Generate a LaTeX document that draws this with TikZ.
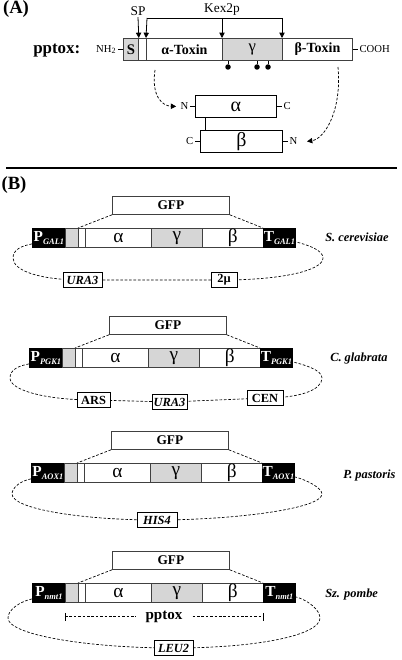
\documentclass[tikz,border=0pt]{standalone}
\usepackage{fontspec}
\setmainfont{Liberation Serif}
\usetikzlibrary{calc,arrows.meta,backgrounds}
\definecolor{cellgray}{gray}{0.84}
\tikzset{
  cell/.style={draw=black!75, line width=0.6pt, inner sep=0pt, fill=white},
  graycell/.style={cell, fill=cellgray},
  blackcell/.style={cell, draw=black, fill=black, text=white},
  greek/.style={font=\fontsize{14.5}{14}\selectfont},
  gfpfont/.style={font=\fontsize{10}{12}\selectfont\bfseries},
  smallbox/.style={draw, line width=0.6pt, fill=white, inner sep=0pt, minimum height={15*0.75pt}},
  bi/.style={font=\fontsize{9.3}{10}\selectfont\bfseries\itshape},
  bn/.style={font=\fontsize{9.3}{10}\selectfont\bfseries},
  dsh/.style={dash pattern=on 2pt off 1.3pt, line width=0.5pt},
  arr/.style={-{Triangle[length=4pt,width=4pt]}},
  species/.style={font=\fontsize{9.3}{11}\selectfont\bfseries\itshape, anchor=base west, inner sep=0pt},
  small/.style={font=\fontsize{8}{9}\selectfont, inner sep=1pt},
  blob/.style={circle, fill, inner sep=0pt, minimum size={5.5*0.75pt}},
}
\newcommand\mycell[7]{\node[#1, minimum width={#5*0.75pt}, minimum height={#6*0.75pt}, anchor=north west] (#2) at (#3,#4) {#7};}
\newcommand\promlabel[2]{\fontsize{11.5}{12}\selectfont\bfseries #1\raisebox{-1.8pt}{\fontsize{6.3}{7}\selectfont\itshape #2}}
\newcommand\cassette[5]{%
\begin{scope}[shift={(#2,#3)}]
\mycell{blackcell}{#1P}{0}{0}{33}{19}{\promlabel{P}{#4}}
\mycell{graycell}{#1g}{33}{0}{13}{19}{}
\mycell{cell}{#1w}{46}{0}{7}{19}{}
\mycell{cell,greek}{#1a}{53}{0}{66}{19}{α}
\mycell{graycell,greek}{#1y}{119}{0}{51}{19}{γ}
\mycell{cell,greek}{#1b}{170}{0}{61}{19}{β}
\mycell{blackcell}{#1T}{231}{0}{32}{19}{\promlabel{T}{#5}}
\mycell{cell,gfpfont}{#1gfp}{80}{-32}{117}{18}{GFP}
\draw[dsh] (#1gfp.south west) -- (#1w.north west);
\draw[dsh] (#1gfp.south east) -- (#1T.north west);
\end{scope}}
\begin{document}
\begin{tikzpicture}[x=0.75pt,y=-0.75pt]
\useasboundingbox (0,0) rectangle (401,660);
% ---------------- Panel A
\node[font=\fontsize{14}{14}\selectfont\bfseries, inner sep=0pt] (labA) at (16,9.5) {(A)};
\node[font=\fontsize{12.7}{14}\selectfont\bfseries, anchor=base west, inner sep=0pt] (pptoxA) at (33,54) {pptox:};
\mycell{graycell,font=\fontsize{11}{12}\selectfont\bfseries}{aS}{123}{38}{15}{22}{S}
\mycell{cell}{aw}{138}{38}{8}{22}{}
\mycell{cell,font=\fontsize{10.5}{12}\selectfont\bfseries}{aA}{146}{38}{76}{22}{α-Toxin}
\mycell{graycell,font=\fontsize{12.5}{12}\selectfont}{aY}{222}{38}{60}{22}{γ}
\mycell{cell,font=\fontsize{10.5}{12}\selectfont\bfseries}{aB}{282}{38}{70}{22}{β-Toxin}
\draw[line width=0.6pt] (aS.west) -- ++(-5,0) node[left, small] (nh2) {NH\textsubscript{2}};
\draw[line width=0.6pt] (aB.east) -- ++(5,0) node[right, small] (cooh) {COOH};
\node[font=\fontsize{10}{12}\selectfont, inner sep=1pt] (sp) at (138,11) {SP};
\draw[arr, line width=0.6pt] (sp.south) -- (aS.north east);
\coordinate (k1) at (147,18);
\coordinate (k2) at (282,18);
\coordinate (k3) at (222,18);
\draw[line width=0.6pt] (k1) -- (k2);
\draw[arr, line width=0.6pt] (k1) -- (aA.north west);
\draw[arr, line width=0.6pt] (k3) -- (aY.north west);
\draw[arr, line width=0.6pt] (k2) -- (aB.north west);
\node[font=\fontsize{10}{12}\selectfont, inner sep=1pt] (kex) at (222,10) {Kex2p};
\node[blob] (d1) at (228,67) {};
\node[blob] (d2) at (257,67) {};
\node[blob] (d3) at (268,67) {};
\foreach \d in {d1,d2,d3} \draw[line width=0.6pt] (\d) -- (\d |- aY.south);
% alpha / beta chains
\mycell{cell,draw=black,font=\fontsize{15}{15}\selectfont}{alpha}{195}{95}{81}{22}{α}
\mycell{cell,draw=black,font=\fontsize{15}{15}\selectfont}{beta}{200}{130}{82}{22}{β}
\draw[line width=0.6pt] (alpha.west) -- ++(-5,0) node[left, small] (aN) {N};
\draw[line width=0.6pt] (alpha.east) -- ++(5,0) node[right, small] (aC) {C};
\draw[line width=0.6pt] (beta.west) -- ++(-5,0) node[left, small] (bC) {C};
\draw[line width=0.6pt] (beta.east) -- ++(5,0) node[right, small] (bN) {N};
\draw[line width=0.6pt] ([xshift=7.5pt]alpha.south west) -- ([xshift=3.75pt]beta.north west);
\coordinate (sA) at (155,70);
\coordinate (sB) at (338,67);
\draw[dsh, line width=0.55pt, arr] (sA) .. controls (151,97) and (163,106) .. ([xshift=-2pt]aN.west);
\draw[dsh, line width=0.55pt, arr] (sB) .. controls (342,112) and (324,139) .. ([xshift=6pt]bN.east);
% separator
\coordinate (r1) at (6,168);
\coordinate (r2) at (397,168);
\draw[line width=0.8pt] (r1) -- (r2);
% ---------------- Panel B
\node[font=\fontsize{14}{14}\selectfont\bfseries, inner sep=0pt] (labB) at (14,185) {(B)};
% construct 1
\node[smallbox, bi, minimum width={39*0.75pt}] (c1ura) at (82.5,280) {URA3};
\node[smallbox, bn, minimum width={26*0.75pt}] (c1mu) at (224,280) {2µ};
\coordinate (c1l) at (13,258);
\coordinate (c1r) at (323,258);
\cassette{c1}{32}{228}{GAL1}{GAL1}
\node[species] (sp1) at (325,241) {S. cerevisiae};
% construct 2
\node[smallbox, bn, minimum width={33*0.75pt}] (c2ars) at (93.5,400) {ARS};
\node[smallbox, bi, minimum width={35*0.75pt}] (c2ura) at (169.5,402) {URA3};
\node[smallbox, bn, minimum width={36*0.75pt}] (c2cen) at (265,398) {CEN};
\coordinate (c2l) at (10,378);
\coordinate (c2r) at (322,378);
\cassette{c2}{29}{348}{PGK1}{PGK1}
\node[species] (sp2) at (330,361) {C. glabrata};
% construct 3
\node[smallbox, bi, minimum width={40*0.75pt}] (c3his) at (157,520) {HIS4};
\coordinate (c3l) at (12,494);
\coordinate (c3r) at (322,494);
\cassette{c3}{31}{463}{AOX1}{AOX1}
\node[species] (sp3) at (343,478) {P. pastoris};
% construct 4
\node[smallbox, bi, minimum width={39*0.75pt}] (c4leu) at (173.5,648) {LEU2};
\coordinate (c4lf) at (8,618);
\coordinate (c4rt) at (320,618);
\cassette{c4}{32}{583}{nmt1}{nmt1}
\node[species] (sp4) at (325,597) {Sz. pombe};
% plasmid backbones (behind boxes and bars)
\begin{scope}[on background layer]
\draw[dsh] ([yshift=-4.5pt]c1P.west) .. controls +(-11,2) and +(0,-8) .. (c1l)
  .. controls +(0,13) and +(-42,0) .. (c1ura.center) -- (c1mu.center)
  .. controls +(55,0) and +(0,13) .. (c1r)
  .. controls +(0,-8) and +(12,3) .. ([yshift=-3pt]c1T.east);
\draw[dsh] ([yshift=-4.5pt]c2P.west) .. controls +(-11,2) and +(0,-8) .. (c2l)
  .. controls +(0,13) and +(-45,0) .. (c2ars.center) -- (c2ura.center) -- (c2cen.center)
  .. controls +(35,0) and +(0,12) .. (c2r)
  .. controls +(0,-8) and +(12,3) .. ([yshift=-3pt]c2T.east);
\draw[dsh] ([yshift=-4.5pt]c3P.west) .. controls +(-11,2) and +(0,-6) .. (c3l)
  .. controls +(0,15) and +(-75,0) .. (c3his.center)
  .. controls +(75,0) and +(0,15) .. (c3r)
  .. controls +(0,-6) and +(12,3) .. ([yshift=-3pt]c3T.east);
\draw[dsh] ([yshift=-4.5pt]c4P.west) .. controls +(-13,3) and +(0,-8) .. (c4lf)
  .. controls +(0,17) and +(-85,0) .. (c4leu.center)
  .. controls +(85,0) and +(0,17) .. (c4rt)
  .. controls +(0,-8) and +(12,3) .. ([yshift=-3pt]c4T.east);
\end{scope}
% pptox bracket
\path (c4g.south west) ++(0,14) coordinate (pl);
\path (c4T.south west) ++(0,14) coordinate (pr);
\draw[dsh] (pl) -- (pr);
\draw[line width=0.5pt] ([yshift=3pt]pl) -- ([yshift=-3pt]pl);
\draw[line width=0.5pt] ([yshift=3pt]pr) -- ([yshift=-3pt]pr);
\node[fill=white, font=\fontsize{11.3}{12}\selectfont\bfseries, inner xsep=7pt, inner ysep=1pt] (ppt) at ($(pl)!0.5!(pr)$) {pptox};
\end{tikzpicture}
\end{document}
